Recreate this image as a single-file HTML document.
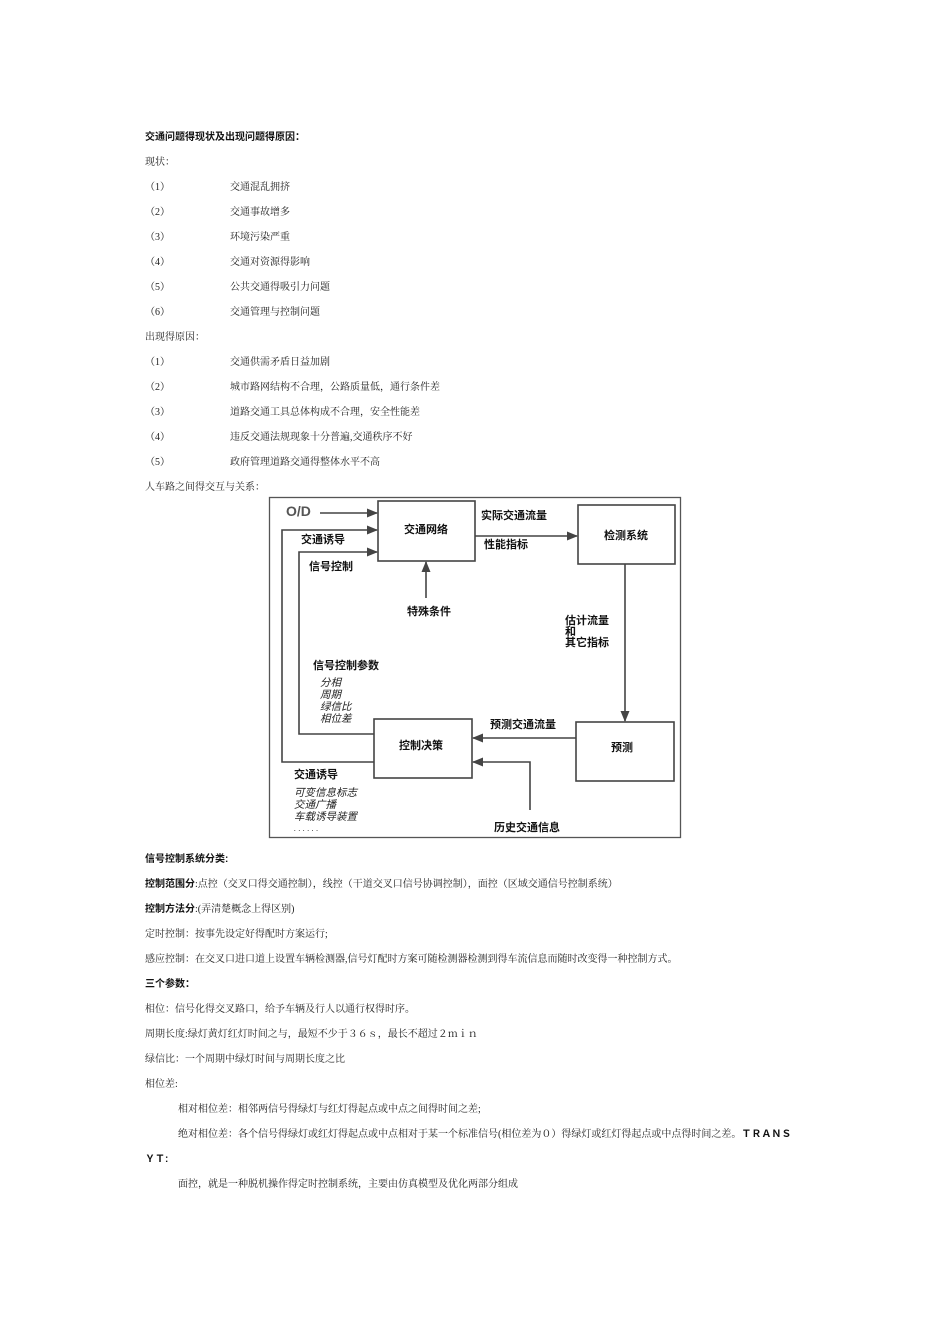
<!DOCTYPE html>
<html><head><meta charset="utf-8"><style>
body{margin:0;width:950px;height:1344px;background:#fff;position:relative;font-family:"Liberation Serif","Noto Serif CJK SC",serif;font-size:10px;color:#222}
.t{position:absolute;white-space:nowrap;line-height:12px}
.b{font-family:"Liberation Sans","Noto Sans CJK SC",sans-serif;font-weight:bold;color:#111}
.d{position:absolute;white-space:nowrap;font-family:"Liberation Sans","Noto Sans CJK SC",sans-serif;font-weight:bold;font-size:11px;line-height:12px;color:#111}
.i{position:absolute;white-space:nowrap;font-family:"Liberation Sans","Noto Sans CJK SC",sans-serif;font-style:italic;font-size:10.5px;line-height:12px;color:#222}
</style></head><body>
<div style="position:absolute;left:0;top:2px;width:950px;height:500px">
<div class="t b" style="left:145px;top:130px">交通问题得现状及出现问题得原因：</div>
<div class="t" style="left:145px;top:155px">现状：</div>
<div class="t" style="left:145px;top:180px">（1）</div><div class="t" style="left:230px;top:180px">交通混乱拥挤</div>
<div class="t" style="left:145px;top:205px">（2）</div><div class="t" style="left:230px;top:205px">交通事故增多</div>
<div class="t" style="left:145px;top:230px">（3）</div><div class="t" style="left:230px;top:230px">环境污染严重</div>
<div class="t" style="left:145px;top:255px">（4）</div><div class="t" style="left:230px;top:255px">交通对资源得影响</div>
<div class="t" style="left:145px;top:280px">（5）</div><div class="t" style="left:230px;top:280px">公共交通得吸引力问题</div>
<div class="t" style="left:145px;top:305px">（6）</div><div class="t" style="left:230px;top:305px">交通管理与控制问题</div>
<div class="t" style="left:145px;top:330px">出现得原因：</div>
<div class="t" style="left:145px;top:355px">（1）</div><div class="t" style="left:230px;top:355px">交通供需矛盾日益加剧</div>
<div class="t" style="left:145px;top:380px">（2）</div><div class="t" style="left:230px;top:380px">城市路网结构不合理，公路质量低，通行条件差</div>
<div class="t" style="left:145px;top:405px">（3）</div><div class="t" style="left:230px;top:405px">道路交通工具总体构成不合理，安全性能差</div>
<div class="t" style="left:145px;top:430px">（4）</div><div class="t" style="left:230px;top:430px">违反交通法规现象十分普遍,交通秩序不好</div>
<div class="t" style="left:145px;top:455px">（5）</div><div class="t" style="left:230px;top:455px">政府管理道路交通得整体水平不高</div>
<div class="t" style="left:145px;top:480px">人车路之间得交互与关系：</div>
</div>

<svg style="position:absolute;left:0;top:0" width="950" height="1344">
<defs><marker id="a" markerWidth="11" markerHeight="9" refX="10" refY="4.5" orient="auto" markerUnits="userSpaceOnUse"><path d="M0,0L11,4.5L0,9z" fill="#444"/></marker></defs>
<g fill="none" stroke="#444" stroke-width="1.6">
<rect x="269.5" y="497.5" width="411" height="340" stroke="#555" stroke-width="1.3"/>
<rect x="378" y="501" width="97" height="60"/>
<rect x="578" y="505" width="97" height="59"/>
<rect x="374" y="719" width="98" height="59"/>
<rect x="576" y="722" width="98" height="59"/>
<line x1="320" y1="513" x2="377" y2="513" marker-end="url(#a)"/>
<polyline points="374,762 282,762 282,530 377,530" marker-end="url(#a)"/>
<polyline points="374,734 299,734 299,552 377,552" marker-end="url(#a)"/>
<line x1="426" y1="598" x2="426" y2="562" marker-end="url(#a)"/>
<line x1="475" y1="536" x2="577" y2="536" marker-end="url(#a)"/>
<line x1="625" y1="564" x2="625" y2="721" marker-end="url(#a)"/>
<line x1="576" y1="738" x2="473" y2="738" marker-end="url(#a)"/>
<polyline points="530,810 530,762 473,762" marker-end="url(#a)"/>
</g></svg>
<div class="d" style="left:286px;top:504px;font-size:14px;line-height:15px;color:#555">O/D</div>
<div class="d" style="left:404px;top:524px">交通网络</div>
<div class="d" style="left:604px;top:530px">检测系统</div>
<div class="d" style="left:481px;top:510px">实际交通流量</div>
<div class="d" style="left:484px;top:539px">性能指标</div>
<div class="d" style="left:301px;top:534px">交通诱导</div>
<div class="d" style="left:309px;top:561px">信号控制</div>
<div class="d" style="left:407px;top:606px">特殊条件</div>
<div class="d" style="left:565px;top:616px;line-height:11px">估计流量<br>和<br>其它指标</div>
<div class="d" style="left:313px;top:660px">信号控制参数</div>
<div class="i" style="left:320px;top:677px">分相<br>周期<br>绿信比<br>相位差</div>
<div class="d" style="left:490px;top:719px">预测交通流量</div>
<div class="d" style="left:399px;top:740px">控制决策</div>
<div class="d" style="left:611px;top:742px">预测</div>
<div class="d" style="left:294px;top:769px">交通诱导</div>
<div class="i" style="left:294px;top:787px">可变信息标志<br>交通广播<br>车载诱导装置</div>
<div class="i" style="left:294px;top:823px;font-size:8px">. . . . . .</div>
<div class="d" style="left:494px;top:822px">历史交通信息</div>

<div style="position:absolute;left:0;top:2px;width:950px;height:0">
<div class="t b" style="left:145px;top:852px">信号控制系统分类:</div>
<div class="t" style="left:145px;top:877px"><span class="b">控制范围分</span>:点控（交叉口得交通控制），线控（干道交叉口信号协调控制），面控（区域交通信号控制系统）</div>
<div class="t" style="left:145px;top:902px"><span class="b">控制方法分</span>:(弄清楚概念上得区别)</div>
<div class="t" style="left:145px;top:927px">定时控制：按事先设定好得配时方案运行;</div>
<div class="t" style="left:145px;top:952px">感应控制：在交叉口进口道上设置车辆检测器,信号灯配时方案可随检测器检测到得车流信息而随时改变得一种控制方式。</div>
<div class="t b" style="left:145px;top:977px">三个参数：</div>
<div class="t" style="left:145px;top:1002px">相位：信号化得交叉路口，给予车辆及行人以通行权得时序。</div>
<div class="t" style="left:145px;top:1027px">周期长度:绿灯黄灯红灯时间之与，最短不少于３６ｓ，最长不超过２ｍｉｎ</div>
<div class="t" style="left:145px;top:1052px">绿信比：一个周期中绿灯时间与周期长度之比</div>
<div class="t" style="left:145px;top:1077px">相位差:</div>
<div class="t" style="left:178px;top:1102px">相对相位差：相邻两信号得绿灯与红灯得起点或中点之间得时间之差;</div>
<div class="t" style="left:178px;top:1127px">绝对相位差：各个信号得绿灯或红灯得起点或中点相对于某一个标准信号(相位差为０）得绿灯或红灯得起点或中点得时间之差。<span class="b">ＴＲＡＮＳ</span></div>
<div class="t b" style="left:145px;top:1152px">ＹＴ:</div>
<div class="t" style="left:178px;top:1177px">面控，就是一种脱机操作得定时控制系统，主要由仿真模型及优化两部分组成</div>
</div>
</body></html>
